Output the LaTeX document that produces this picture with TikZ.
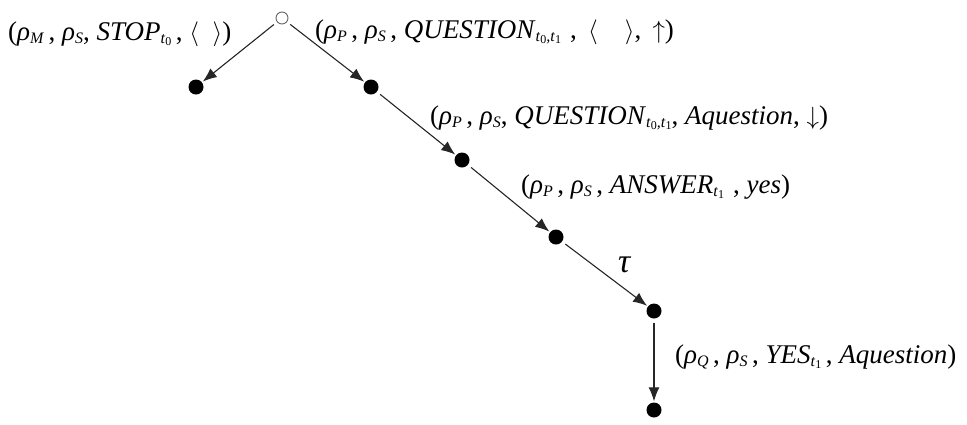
\documentclass[tikz,border=0pt]{standalone}
\usepackage{fontspec}
\setmainfont{Liberation Serif}
\usetikzlibrary{arrows.meta}
\newcommand{\sbs}[1]{\raisebox{-0.3ex}{\fontsize{16}{16}\selectfont #1}}
\newcommand{\ssbs}[1]{\raisebox{-0.25ex}{\fontsize{12}{12}\selectfont\upshape #1}}
\newcommand{\rh}{\textit{ρ}}
\begin{document}
\begin{tikzpicture}[x=1pt,y=-1pt,
  dot/.style={circle,fill=black,inner sep=0pt,minimum size=15pt},
  odot/.style={circle,draw=black!60,fill=white,line width=0.9pt,inner sep=0pt,minimum size=12pt},
  edge/.style={draw=black!85,line width=1.1pt,-{Latex[length=14pt,width=11pt]},shorten >=1pt,shorten <=4pt},
  lbl/.style={anchor=base west,inner sep=0pt,font=\fontsize{27}{30}\selectfont}]
\useasboundingbox (0,0) rectangle (967,424);
\node[odot] (r) at (282,18) {};
\node[dot] (a) at (196,87) {};
\node[dot] (b) at (371,87) {};
\node[dot] (c) at (462,160) {};
\node[dot] (d) at (556,237) {};
\node[dot] (e) at (654,311) {};
\node[dot] (f) at (654,410) {};
\draw[edge] (r) -- (a);
\draw[edge] (r) -- (b);
\draw[edge] (b) -- (c);
\draw[edge] (c) -- (d);
\draw[edge] (d) -- (e);
\draw[edge] (e) -- (f);
\node[lbl] (l1) at (8,40) {(\rh\sbs{\textit{M}}\,, \rh\sbs{\textit{S}}, \textit{STOP}\sbs{\textit{t}\ssbs{0}}\,, $\langle\ \ \rangle$)};
\node[lbl] (l2) at (315,38) {(\rh\sbs{\textit{P}}\,, \rh\sbs{\textit{S}}\,, \textit{QUESTION}\sbs{\textit{t}\ssbs{0}\textit{,t}\ssbs{1}}\,\,, \,$\langle\ \ \ \ \rangle$,\, $\uparrow$)};
\node[lbl] (l3) at (430,124) {(\rh\sbs{\textit{P}}\,, \rh\sbs{\textit{S}}, \textit{QUESTION}\sbs{\textit{t}\ssbs{0}\textit{,t}\ssbs{1}}, \textit{Aquestion}, $\downarrow$)};
\node[lbl] (l4) at (521,193) {(\rh\sbs{\textit{P}}\,, \rh\sbs{\textit{S}}\,, \textit{ANSWER}\sbs{\textit{t}\ssbs{1}}\,\,, \textit{yes})};
\node[lbl,font=\fontsize{34}{36}\selectfont] (tau) at (618,272) {\textit{τ}};
\node[lbl] (l5) at (675,363) {(\rh\sbs{\textit{Q}}\,, \rh\sbs{\textit{S}}\,, \textit{YES}\sbs{\textit{t}\ssbs{1}}\,, \textit{Aquestion})};
\end{tikzpicture}
\end{document}
